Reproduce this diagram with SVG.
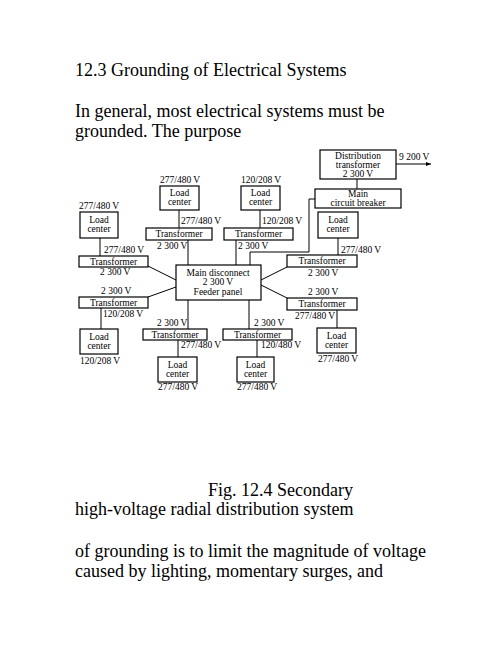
<svg xmlns="http://www.w3.org/2000/svg" width="502" height="649" viewBox="0 0 502 649">
<style>
.body{font-family:"Liberation Serif","Times New Roman",serif;font-size:18px;fill:#000}
.t{font-family:"Liberation Serif","Times New Roman",serif;font-size:9.5px;fill:#000}
.c{text-anchor:middle}
.box{fill:#fff;stroke:#000;stroke-width:1.2}
.ln{fill:none;stroke:#000;stroke-width:1}
</style>
<defs>
<marker id="arr" viewBox="0 0 10 10" refX="10" refY="5" markerWidth="7" markerHeight="5" orient="auto" markerUnits="userSpaceOnUse">
<path d="M0,1 L10,5 L0,9 Z" fill="#000"/>
</marker>
</defs>
<rect width="502" height="649" fill="#fff"/>

<text class="body" x="75" y="76">12.3 Grounding of Electrical Systems</text>
<text class="body" x="75" y="117">In general, most electrical systems must be</text>
<text class="body" x="75" y="137">grounded. The purpose</text>
<text class="body" x="208" y="496">Fig. 12.4 Secondary</text>
<text class="body" x="75" y="515">high-voltage radial distribution system</text>
<text class="body" x="75" y="557">of grounding is to limit the magnitude of voltage</text>
<text class="body" x="75" y="577">caused by lighting, momentary surges, and</text>

<g id="connectors">
<line class="ln" x1="357" y1="179" x2="357" y2="189"/>
<line class="ln" x1="396" y1="164" x2="431" y2="164" marker-end="url(#arr)"/>
<polyline class="ln" points="315,199 309,199 309,252 250,252 250,265"/>
<line class="ln" x1="179" y1="210" x2="179" y2="228"/>
<line class="ln" x1="260" y1="210" x2="260" y2="228"/>
<line class="ln" x1="188" y1="240" x2="188" y2="265"/>
<line class="ln" x1="236" y1="240" x2="236" y2="265"/>
<line class="ln" x1="100" y1="238" x2="100" y2="256"/>
<line class="ln" x1="148" y1="266" x2="176" y2="280"/>
<line class="ln" x1="176" y1="287" x2="148" y2="297"/>
<line class="ln" x1="101" y1="308" x2="101" y2="329"/>
<line class="ln" x1="338" y1="238" x2="338" y2="255"/>
<line class="ln" x1="261" y1="280" x2="287" y2="267"/>
<line class="ln" x1="261" y1="285" x2="287" y2="298"/>
<line class="ln" x1="337" y1="310" x2="337" y2="328"/>
<line class="ln" x1="188" y1="300" x2="188" y2="329"/>
<line class="ln" x1="249" y1="300" x2="249" y2="329"/>
<line class="ln" x1="178" y1="340" x2="178" y2="357"/>
<line class="ln" x1="257" y1="340" x2="257" y2="357"/>
</g>

<g id="labels">
<text class="t" x="399" y="160">9 200 V</text>
<text class="t" x="160" y="183">277/480 V</text>
<text class="t" x="241" y="183">120/208 V</text>
<text class="t" x="79" y="209">277/480 V</text>
<text class="t" x="181" y="224">277/480 V</text>
<text class="t" x="262" y="224">120/208 V</text>
<text class="t" x="157" y="249">2 300 V</text>
<text class="t" x="238" y="249">2 300 V</text>
<text class="t" x="104" y="253">277/480 V</text>
<text class="t" x="100" y="275">2 300 V</text>
<text class="t" x="101" y="294">2 300 V</text>
<text class="t" x="103" y="317">120/208 V</text>
<text class="t" x="80" y="364">120/208 V</text>
<text class="t" x="341" y="253">277/480 V</text>
<text class="t" x="308" y="276">2 300 V</text>
<text class="t" x="308" y="295">2 300 V</text>
<text class="t" x="295" y="319">277/480 V</text>
<text class="t" x="318" y="362">277/480 V</text>
<text class="t" x="157" y="326">2 300 V</text>
<text class="t" x="254" y="326">2 300 V</text>
<text class="t" x="181" y="348">277/480 V</text>
<text class="t" x="261" y="348">120/480 V</text>
<text class="t" x="158" y="390">277/480 V</text>
<text class="t" x="237" y="390">277/480 V</text>
</g>

<g id="dist-transformer">
<rect class="box" x="320" y="150" width="76" height="29"/>
<text class="t c" x="358" y="159">Distribution</text>
<text class="t c" x="358" y="168">transformer</text>
<text class="t c" x="358" y="177">2 300 V</text>
</g>
<g id="main-breaker">
<rect class="box" x="315" y="189" width="86" height="19"/>
<text class="t c" x="358" y="197">Main</text>
<text class="t c" x="358" y="206">circuit breaker</text>
</g>
<g id="main-disconnect">
<rect class="box" x="176" y="265" width="85" height="35"/>
<text class="t c" x="218" y="276">Main disconnect</text>
<text class="t c" x="218" y="285">2 300 V</text>
<text class="t c" x="218" y="295">Feeder panel</text>
</g>

<g id="lc-top1"><rect class="box" x="160" y="186" width="39" height="24"/><text class="t c" x="179.5" y="196">Load</text><text class="t c" x="179.5" y="205">center</text></g>
<g id="lc-top2"><rect class="box" x="241" y="186" width="39" height="24"/><text class="t c" x="260.5" y="196">Load</text><text class="t c" x="260.5" y="205">center</text></g>
<g id="lc-left"><rect class="box" x="80" y="212" width="38" height="26"/><text class="t c" x="99" y="223">Load</text><text class="t c" x="99" y="232">center</text></g>
<g id="lc-right"><rect class="box" x="318" y="212" width="40" height="26"/><text class="t c" x="338" y="223">Load</text><text class="t c" x="338" y="232">center</text></g>
<g id="lc-bl"><rect class="box" x="80" y="329" width="38" height="25"/><text class="t c" x="99" y="340">Load</text><text class="t c" x="99" y="349">center</text></g>
<g id="lc-br"><rect class="box" x="317" y="328" width="39" height="25"/><text class="t c" x="336.5" y="339">Load</text><text class="t c" x="336.5" y="348">center</text></g>
<g id="lc-b1"><rect class="box" x="158" y="357" width="39" height="25"/><text class="t c" x="177.5" y="368">Load</text><text class="t c" x="177.5" y="377">center</text></g>
<g id="lc-b2"><rect class="box" x="237" y="357" width="37" height="25"/><text class="t c" x="255.5" y="368">Load</text><text class="t c" x="255.5" y="377">center</text></g>

<g id="tr-top1"><rect class="box" x="146" y="228" width="66" height="12"/><text class="t c" x="179" y="237">Transformer</text></g>
<g id="tr-top2"><rect class="box" x="224" y="228" width="69" height="12"/><text class="t c" x="258.5" y="237">Transformer</text></g>
<g id="tr-left1"><rect class="box" x="79" y="256" width="69" height="11"/><text class="t c" x="113.5" y="265">Transformer</text></g>
<g id="tr-left2"><rect class="box" x="79" y="297" width="69" height="11"/><text class="t c" x="113.5" y="306">Transformer</text></g>
<g id="tr-right1"><rect class="box" x="287" y="255" width="70" height="12"/><text class="t c" x="322" y="264">Transformer</text></g>
<g id="tr-right2"><rect class="box" x="287" y="298" width="70" height="12"/><text class="t c" x="322" y="307">Transformer</text></g>
<g id="tr-b1"><rect class="box" x="143" y="329" width="64" height="11"/><text class="t c" x="175" y="338">Transformer</text></g>
<g id="tr-b2"><rect class="box" x="223" y="329" width="69" height="11"/><text class="t c" x="257.5" y="338">Transformer</text></g>
</svg>
